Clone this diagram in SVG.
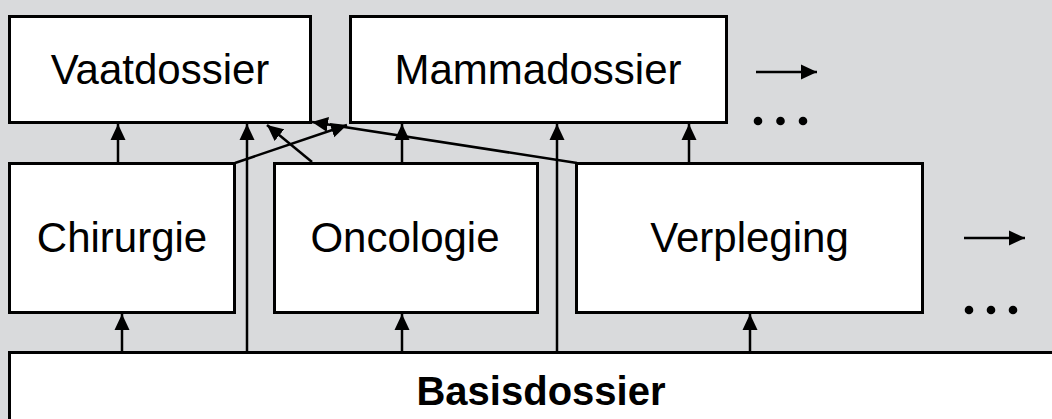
<svg xmlns="http://www.w3.org/2000/svg" width="1052" height="419" viewBox="0 0 1052 419">
<style>
.box{fill:#fff;stroke:#000;stroke-width:3}
.lbl{font-family:"Liberation Sans",Arial,sans-serif;font-size:42px;fill:#000;text-anchor:middle}
.bold{font-weight:bold;font-size:40px}
.con{stroke:#000;stroke-width:2.5;fill:none;marker-end:url(#ah)}
.dot{fill:#000}
</style>
<defs>
<marker id="ah" markerUnits="userSpaceOnUse" markerWidth="16" markerHeight="16" refX="16" refY="8" orient="auto">
<path d="M0,0.5 L16,8 L0,15.5 Z" fill="#000"/>
</marker>
</defs>
<rect x="0" y="0" width="1052" height="419" fill="#d9dadc"/>
<g id="vaatdossier">
<rect class="box" x="9.5" y="16.5" width="301" height="106"/>
<text class="lbl" x="160" y="84">Vaatdossier</text>
</g>
<g id="mammadossier">
<rect class="box" x="350.5" y="16.5" width="376" height="106"/>
<text class="lbl" x="538" y="84">Mammadossier</text>
</g>
<g id="chirurgie">
<rect class="box" x="9.5" y="163.5" width="225" height="149"/>
<text class="lbl" x="122" y="252">Chirurgie</text>
</g>
<g id="oncologie">
<rect class="box" x="274.5" y="163.5" width="263" height="149"/>
<text class="lbl" x="405" y="252">Oncologie</text>
</g>
<g id="verpleging">
<rect class="box" x="576.5" y="163.5" width="346" height="149"/>
<text class="lbl" x="749.5" y="252">Verpleging</text>
</g>
<g id="basisdossier">
<rect class="box" x="9.5" y="352.5" width="1060" height="80"/>
<text class="lbl bold" x="541" y="405">Basisdossier</text>
</g>
<g id="connectors">
<line class="con" x1="118" y1="163" x2="118" y2="124"/>
<line class="con" x1="247" y1="352" x2="247" y2="124"/>
<line class="con" x1="312" y1="162" x2="267" y2="125"/>
<line class="con" x1="235" y1="163" x2="347" y2="125"/>
<line class="con" x1="577" y1="163" x2="312" y2="122"/>
<line class="con" x1="402" y1="163" x2="402" y2="124"/>
<line class="con" x1="557" y1="352" x2="557" y2="124"/>
<line class="con" x1="689" y1="163" x2="689" y2="124"/>
<line class="con" x1="122" y1="352" x2="122" y2="314"/>
<line class="con" x1="402" y1="352" x2="402" y2="314"/>
<line class="con" x1="750" y1="352" x2="750" y2="314"/>
<line class="con" x1="756" y1="72" x2="817" y2="72"/>
<line class="con" x1="964" y1="238" x2="1025" y2="238"/>
</g>
<g id="more">
<circle class="dot" cx="758" cy="121" r="4.3"/>
<circle class="dot" cx="780.5" cy="121" r="4.3"/>
<circle class="dot" cx="803" cy="121" r="4.3"/>
<circle class="dot" cx="969" cy="310" r="4.3"/>
<circle class="dot" cx="991" cy="310" r="4.3"/>
<circle class="dot" cx="1013" cy="310" r="4.3"/>
</g>
</svg>
